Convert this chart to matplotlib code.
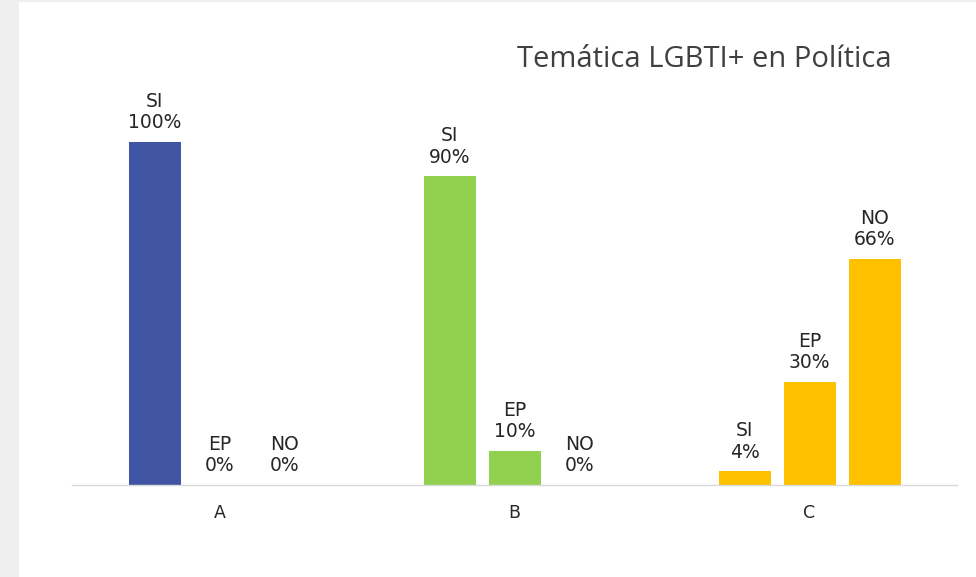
import numpy as np
import matplotlib
matplotlib.use("Agg")
import matplotlib.pyplot as plt
from matplotlib.patches import Rectangle

# data
groups = ["A", "B", "C"]
answers = ["SI", "EP", "NO"]
values_a = [100, 0, 0]
values_b = [90, 10, 0]
values_c = [4, 30, 66]
group_colors = ["#3F55A3", "#92D050", "#FFC000"]

title = "Temática LGBTI+ en Política"
text_color = "#404040"

plt.rcParams["font.family"] = ["Open Sans", "DejaVu Sans"]

fig = plt.figure(figsize=(9.76, 5.77), dpi=100)
fig.patch.set_facecolor("#EFEFEF")
# white panel (gray strip on the left and a thin line on top)
fig.add_artist(Rectangle((19 / 976, 0), 1, 1 - 2 / 577, transform=fig.transFigure,
                         facecolor="white", edgecolor="none", zorder=0))

ax = fig.add_axes([72 / 976, 1 - 485 / 577, 885 / 976, 411.6 / 577])
ax.set_facecolor("none")

offset = 65 / 295
width = 52 / 295
x = np.arange(len(groups))
all_values = [values_a, values_b, values_c]

for gi, vals in enumerate(all_values):
    for ai, v in enumerate(vals):
        xpos = x[gi] + (ai - 1) * offset
        ax.bar(xpos, v, width=width, color=group_colors[gi])
        ax.annotate(f"{answers[ai]}\n{v}%", (xpos, v), xytext=(0, 7),
                    textcoords="offset points", ha="center", va="bottom",
                    fontsize=13.5, family="DejaVu Sans", color="#262626",
                    linespacing=1.15)

ax.set_xlim(-0.5, 2.5)
ax.set_ylim(0, 120)
ax.set_xticks(x)
ax.set_xticklabels(groups, fontsize=12.5, family="DejaVu Sans", color="#262626")
ax.tick_params(axis="x", length=0, pad=14)
ax.set_yticks([])
for side in ["left", "right", "top"]:
    ax.spines[side].set_visible(False)
ax.spines["bottom"].set_color("#D9D9D9")
ax.spines["bottom"].set_linewidth(1)

fig.text(892 / 976, 1 - 67.3 / 577, title, ha="right", va="baseline",
         fontsize=21, color=text_color)

fig.savefig("out.png", dpi=100, facecolor=fig.get_facecolor())
